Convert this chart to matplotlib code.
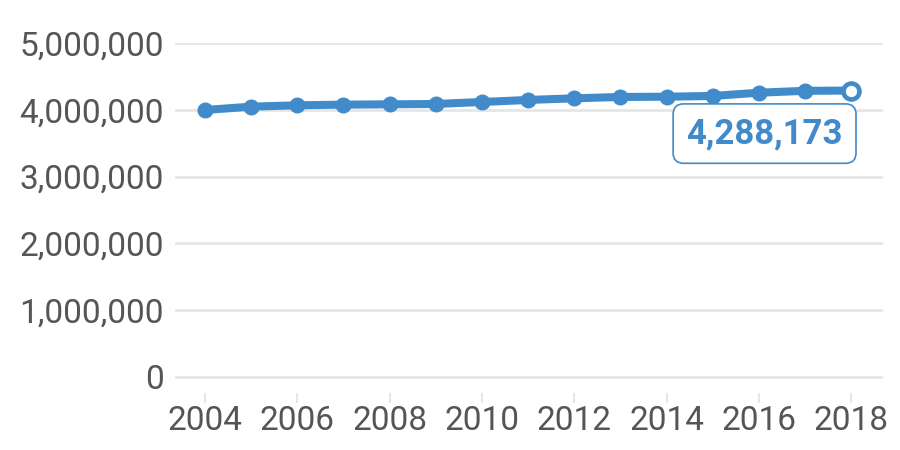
import matplotlib
matplotlib.use('Agg')
from matplotlib import pyplot as plt
from matplotlib.ticker import FuncFormatter

years = [2004, 2005, 2006, 2007, 2008, 2009, 2010, 2011, 2012, 2013, 2014, 2015, 2016, 2017, 2018]
values = [3997000, 4047000, 4067000, 4077000, 4082000, 4087000, 4117000, 4147000,
          4172000, 4192000, 4196000, 4207000, 4256000, 4284000, 4288173]
yticks = [0, 1000000, 2000000, 3000000, 4000000, 5000000]
xticks = [2004, 2006, 2008, 2010, 2012, 2014, 2016, 2018]

blue = '#428bca'
grey = '#555555'
plt.rcParams['font.family'] = ['Roboto', 'DejaVu Sans']

fig = plt.figure(figsize=(9, 4.5), dpi=100)
ax = fig.add_axes([175 / 900, 1 - 393 / 450, 708 / 900, 350 / 450])

for y in yticks:
    ax.axhline(y, color='#e6e6e6', lw=2, zorder=0)

ax.plot(years, values, color=blue, lw=5.8, marker='o', ms=10.5, solid_capstyle='round', zorder=3)
# last point hollow
ax.plot(years[-1], values[-1], marker='o', ms=11.5, mfc='white', mec=blue, mew=3.3, zorder=4)

ax.annotate('{:,}'.format(values[-1]), (years[-1], values[-1]), xytext=(-6, -31),
            textcoords='offset points', ha='right', va='center', fontsize=25,
            fontweight='bold', color=blue,
            bbox=dict(boxstyle='round,pad=0.38,rounding_size=0.3', fc='white', ec=blue, lw=1.2))

ax.set_xlim(2003.35, 2018.69)
ax.set_ylim(-240000, 5000000)
ax.set_yticks(yticks)
ax.set_xticks(xticks)
ax.yaxis.set_major_formatter(FuncFormatter(lambda v, p: '{:,.0f}'.format(v)))
for s in ax.spines.values():
    s.set_visible(False)
ax.tick_params(axis='y', length=0, pad=8, labelsize=24, labelcolor=grey)
ax.tick_params(axis='x', length=7, width=1.5, color='#e6e6e6', pad=2, labelsize=24, labelcolor=grey)

plt.savefig('out.png', dpi=100)
